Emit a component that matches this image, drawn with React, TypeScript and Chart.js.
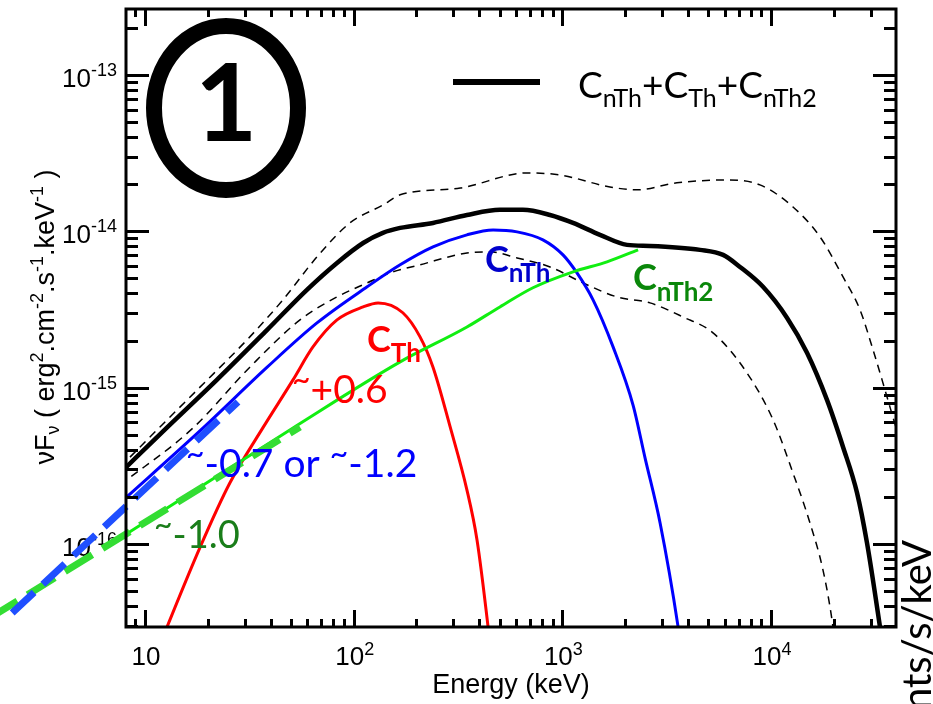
import React, { useEffect, useRef } from "react";
import { Chart, registerables } from "chart.js";

Chart.register(...registerables);

// ---------- axis ranges ----------
const X_MIN = 8.11;
const X_MAX = 39700;
const Y_MIN = 2.94e-17;
const Y_MAX = 2.64e-13;

// ---------- tick labels ----------
const xTickValues = [10, 100, 1000, 10000];
const xTickExps = ["", "2", "3", "4"];
const yTickValues = [1e-13, 1e-14, 1e-15, 1e-16];
const yTickExps = ["-13", "-14", "-15", "-16"];
const minorMultipliers = [1, 2, 3, 4, 5, 6, 7, 8, 9];
const yDecades = [1e-17, 1e-16, 1e-15, 1e-14, 1e-13];
const xDecades = [1, 10, 100, 1000, 10000];

// ---------- series (Energy keV, nuFnu) ----------
const totalE = [7.6, 12.7, 22.1, 38.5, 59.7, 83.2, 111, 138, 167, 240, 349, 502, 647, 873, 1125, 1514, 2041, 2630, 4570, 5890, 7100, 9150, 11940, 14870, 18540, 22130, 25830, 28840, 33270, 34780];
const totalF = [2.84e-16, 5.52e-16, 1.12e-15, 2.34e-15, 4.22e-15, 6.27e-15, 8.41e-15, 9.76e-15, 1.05e-14, 1.13e-14, 1.27e-14, 1.37e-14, 1.37e-14, 1.27e-14, 1.13e-14, 9.48e-15, 8.18e-15, 8.05e-15, 7.6e-15, 7.06e-15, 5.91e-15, 4.41e-15, 2.79e-15, 1.67e-15, 8.34e-16, 4.17e-16, 2.12e-16, 1.01e-16, 2.94e-17, 1.95e-17];

const upperE = [7.6, 11.8, 18.4, 31.8, 45.8, 66.7, 95.9, 138, 167, 324, 678, 975, 1690, 2280, 3540, 6150, 8850, 12740, 17170, 22130, 26690, 30830, 34040, 37150, 41400];
const upperF = [3.1e-16, 5.6e-16, 1.01e-15, 2.11e-15, 3.64e-15, 6.85e-15, 1.13e-14, 1.47e-14, 1.71e-14, 1.89e-14, 2.36e-14, 2.29e-14, 1.92e-14, 1.84e-14, 2.04e-14, 2.13e-14, 1.98e-14, 1.43e-14, 9.2e-15, 5.1e-15, 3.14e-15, 1.74e-15, 1.12e-15, 7.5e-16, 4.6e-16];

const lowerE = [7.6, 17.0, 31.8, 55.3, 83.2, 116, 149, 208, 349, 450, 607, 873, 1256, 1828, 2630, 3780, 5270, 7670, 10230, 12740, 15370, 17740, 19590, 20260];
const lowerF = [2.38e-16, 5.52e-16, 1.35e-15, 2.71e-15, 3.8e-15, 4.67e-15, 5.41e-15, 6.1e-15, 7.26e-15, 7.38e-15, 6.75e-15, 5.91e-15, 4.67e-15, 3.8e-15, 3.48e-15, 2.83e-15, 2.24e-15, 1.24e-15, 6.21e-16, 2.84e-16, 1.36e-16, 6.8e-17, 3.27e-17, 2.26e-17];

const nthE = [7.6, 19.0, 38.5, 66.7, 116, 167, 240, 349, 466, 607, 807, 1007, 1175, 1403, 1750, 2183, 2490, 2940, 3580, 3710];
const nthF = [1.83e-16, 5.52e-16, 1.35e-15, 2.59e-15, 4.41e-15, 6.1e-15, 7.94e-15, 9.48e-15, 1.02e-14, 9.91e-15, 8.81e-15, 7.06e-15, 5.41e-15, 3.64e-15, 1.82e-15, 7.7e-16, 3.55e-16, 1.36e-16, 2.99e-17, 2.1e-17];

const thE = [11.5, 18.4, 25.5, 36.7, 51.2, 63.8, 83.2, 111, 131, 172, 208, 240, 290, 349, 390, 440, 450];
const thF = [2.1e-17, 9.57e-17, 2.45e-16, 5.52e-16, 1.12e-15, 1.82e-15, 2.71e-15, 3.28e-15, 3.48e-15, 3.01e-15, 2.11e-15, 1.35e-15, 5.6e-16, 2.21e-16, 1.06e-16, 2.99e-17, 2.26e-17];

const nth2E = [7.6, 51.2, 167, 349, 502, 723, 1125, 1637, 2306];
const nth2F = [1.09e-16, 5.52e-16, 1.46e-15, 2.44e-15, 3.28e-15, 4.35e-15, 5.5e-15, 6.37e-15, 7.6e-15];

// low-energy power-law extrapolations (drawn beyond the axis)
const nthSlopeE = [2.31, 27.9];
const nthSlopeF = [3.62e-17, 8.09e-16];
const nth2SlopeE = [1.81, 55.3];
const nth2SlopeF = [3.37e-17, 5.6e-16];

// ---------- helpers ----------
const SANS = "'Liberation Sans', Arial, sans-serif";
const CAL = "Lato, 'Open Sans', sans-serif";

type Seg = { t: string; s: number; dy?: number };

const pts = (xs: number[], ys: number[]) => xs.map((x, i) => ({ x, y: ys[i] }));

function segWidth(ctx: CanvasRenderingContext2D, segs: Seg[], weight: string, family: string) {
  let w = 0;
  for (const sg of segs) {
    ctx.font = `${weight} ${sg.s}px ${family}`;
    w += ctx.measureText(sg.t).width;
  }
  return w;
}

function drawRich(ctx: CanvasRenderingContext2D, segs: Seg[], x: number, y: number, color: string, weight: string, family: string, align: "left" | "center" | "right" = "left") {
  const w = segWidth(ctx, segs, weight, family);
  let cx = align === "left" ? x : align === "center" ? x - w / 2 : x - w;
  ctx.fillStyle = color;
  ctx.textAlign = "left";
  ctx.textBaseline = "alphabetic";
  for (const sg of segs) {
    ctx.font = `${weight} ${sg.s}px ${family}`;
    ctx.fillText(sg.t, cx, y + (sg.dy || 0));
    cx += ctx.measureText(sg.t).width;
  }
}

function tickPath(chart: any, ctx: CanvasRenderingContext2D) {
  const a = chart.chartArea;
  const xs = chart.scales.x;
  const ys = chart.scales.y;
  const L = Math.round(a.left);
  const R = Math.round(a.right);
  const T = Math.round(a.top);
  const B = Math.round(a.bottom);
  ctx.beginPath();
  yDecades.forEach((dec) => {
    minorMultipliers.forEach((m) => {
      const v = m * dec;
      if (v < Y_MIN || v > Y_MAX) return;
      const py = Math.round(ys.getPixelForValue(v)) + 0.5;
      const len = m === 1 ? 23 : 12;
      ctx.moveTo(L, py);
      ctx.lineTo(L + len, py);
      ctx.moveTo(R, py);
      ctx.lineTo(R - len, py);
    });
  });
  xDecades.forEach((dec) => {
    minorMultipliers.forEach((m) => {
      const v = m * dec;
      if (v < X_MIN || v > X_MAX) return;
      const px = Math.round(xs.getPixelForValue(v)) + 0.5;
      const len = m === 1 ? 17 : 8;
      ctx.moveTo(px, B);
      ctx.lineTo(px, B - len);
      ctx.moveTo(px, T);
      ctx.lineTo(px, T + len);
    });
  });
  ctx.rect(L, T, R - L, B - T);
}

const decorPlugin = {
  id: "decor",
  beforeDraw(chart: any) {
    const { ctx, width, height } = chart;
    ctx.save();
    ctx.fillStyle = "#ffffff";
    ctx.fillRect(0, 0, width, height);
    ctx.restore();
  },
  beforeDatasetsDraw(chart: any) {
    const { ctx, chartArea: a, scales } = chart;
    const xs = scales.x;
    const ys = scales.y;
    ctx.save();
    // y tick labels
    yTickValues.forEach((v, i) => {
      const py = ys.getPixelForValue(v);
      drawRich(ctx, [{ t: "10", s: 26 }, { t: yTickExps[i], s: 18, dy: -11 }], a.left - 9, py + 12, "#000", "normal", SANS, "right");
    });
    // x tick labels
    xTickValues.forEach((v, i) => {
      const px = xs.getPixelForValue(v);
      const segs: Seg[] = [{ t: "10", s: 26 }];
      if (xTickExps[i]) segs.push({ t: xTickExps[i], s: 18, dy: -10 });
      drawRich(ctx, segs, px + 1, a.bottom + 38, "#000", "normal", SANS, "center");
    });
    // x title
    drawRich(ctx, [{ t: "Energy (keV)", s: 27 }], (a.left + a.right) / 2, a.bottom + 66, "#000", "normal", SANS, "center");
    // y title
    ctx.save();
    ctx.translate(54, 317);
    ctx.rotate(-Math.PI / 2);
    drawRich(ctx, [
      { t: "\u03bdF", s: 27 }, { t: "\u03bd", s: 18, dy: 5 }, { t: " ( erg", s: 27 }, { t: "2", s: 18, dy: -11 },
      { t: ".cm", s: 27 }, { t: "-2", s: 18, dy: -11 }, { t: ".s", s: 27 }, { t: "-1", s: 18, dy: -11 },
      { t: ".keV", s: 27 }, { t: "-1", s: 18, dy: -11 }, { t: " )", s: 27 },
    ], 0, 0, "#000", "normal", SANS, "center");
    ctx.restore();
    // cut-off right axis title
    ctx.save();
    ctx.translate(931, 540);
    ctx.rotate(-Math.PI / 2);
    drawRich(ctx, [{ t: "Counts/s/keV", s: 40 }], 0, 0, "#000", "normal", CAL, "right");
    ctx.restore();
    // circled 1
    ctx.beginPath();
    ctx.ellipse(226, 108, 72, 82, 0, 0, Math.PI * 2);
    ctx.lineWidth = 16;
    ctx.strokeStyle = "#000";
    ctx.stroke();
    drawRich(ctx, [{ t: "1", s: 108 }], 226, 141, "#000", "bold", CAL, "center");
    // legend
    ctx.fillStyle = "#000";
    ctx.fillRect(453, 79, 87, 6);
    drawRich(ctx, [
      { t: "C", s: 37 }, { t: "nTh", s: 25, dy: 9 }, { t: "+C", s: 37 }, { t: "Th", s: 25, dy: 9 },
      { t: "+C", s: 37 }, { t: "nTh2", s: 25, dy: 9 },
    ], 578, 98, "#000", "normal", CAL);
    ctx.restore();
  },
  afterDatasetsDraw(chart: any) {
    const { ctx } = chart;
    ctx.save();
    drawRich(ctx, [{ t: "C", s: 36 }, { t: "nTh", s: 26, dy: 10 }], 485, 272, "#0000cc", "bold", CAL);
    drawRich(ctx, [{ t: "C", s: 36 }, { t: "nTh2", s: 26, dy: 11 }], 633, 290, "#0a870a", "bold", CAL);
    drawRich(ctx, [{ t: "C", s: 36 }, { t: "Th", s: 26, dy: 10 }], 367, 352, "#ff0000", "bold", CAL);
    drawRich(ctx, [{ t: "~", s: 32, dy: -12 }, { t: "+0.6", s: 39 }], 292, 403, "#ff0000", "normal", CAL);
    drawRich(ctx, [{ t: "~", s: 32, dy: -12 }, { t: "-0.7 or ", s: 39 }, { t: "~", s: 32, dy: -12 }, { t: "-1.2", s: 39 }], 186, 477, "#0000ff", "normal", CAL);
    drawRich(ctx, [{ t: "~", s: 32, dy: -12 }, { t: "-1.0", s: 38 }], 154, 548, "#1a7d1a", "normal", CAL);
    ctx.restore();
  },
  afterDraw(chart: any) {
    const ctx: CanvasRenderingContext2D = chart.ctx;
    ctx.save();
    ctx.setLineDash([]);
    ctx.strokeStyle = "#000000";
    ctx.lineWidth = 3;
    tickPath(chart, ctx);
    ctx.stroke();
    ctx.restore();
  },
};

export default function App() {
  const ref = useRef<HTMLCanvasElement | null>(null);

  useEffect(() => {
    const canvas = ref.current;
    if (!canvas) return;
    const line = (data: any[], color: string, width: number, extra: any = {}) => ({
      data, borderColor: color, backgroundColor: color, borderWidth: width, pointRadius: 0, fill: false,
      cubicInterpolationMode: "monotone", ...extra,
    });
    const chart = new Chart(canvas, {
      type: "line",
      data: {
        datasets: [
          line(pts(nthSlopeE, nthSlopeF), "#1f4fff", 7, { borderDash: [30, 12], clip: false, cubicInterpolationMode: "default", tension: 0 }),
          line(pts(nth2SlopeE, nth2SlopeF), "#33dd33", 7, { borderDash: [32, 12], clip: false, cubicInterpolationMode: "default", tension: 0 }),
          line(pts(totalE, totalF), "#000000", 4.5),
          line(pts(nth2E, nth2F), "#11ee11", 3),
          line(pts(nthE, nthF), "#0000ff", 3),
          line(pts(thE, thF), "#ff0000", 3),
          line(pts(upperE, upperF), "#000000", 1.5, { borderDash: [8, 6] }),
          line(pts(lowerE, lowerF), "#000000", 1.5, { borderDash: [8, 6] }),
        ],
      },
      options: {
        responsive: false,
        devicePixelRatio: 1,
        animation: false,
        events: [],
        layout: { padding: { left: 126, right: 37, top: 9, bottom: 77 } },
        plugins: { legend: { display: false }, tooltip: { enabled: false }, title: { display: false } },
        scales: {
          x: { type: "logarithmic", min: X_MIN, max: X_MAX, display: false },
          y: { type: "logarithmic", min: Y_MIN, max: Y_MAX, display: false },
        },
      },
      plugins: [decorPlugin],
    });
    return () => chart.destroy();
  }, []);

  return (
    <div style={{ position: "fixed", left: 0, top: 0, width: 933, height: 704, background: "#fff" }}>
      <canvas ref={ref} width={933} height={704} style={{ display: "block", width: 933, height: 704 }} />
    </div>
  );
}
